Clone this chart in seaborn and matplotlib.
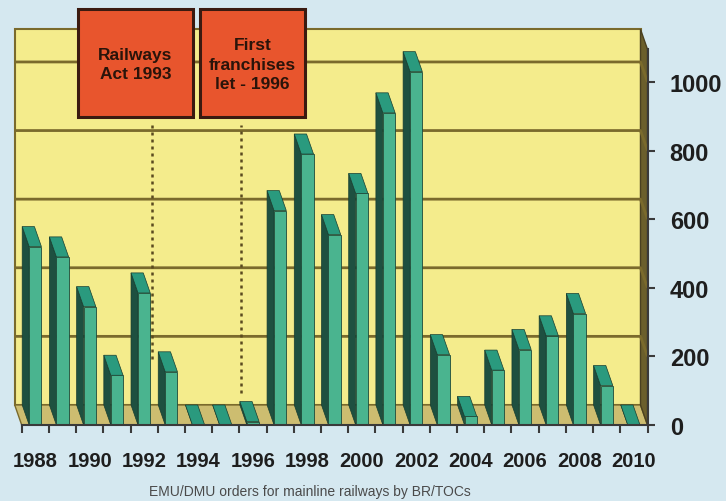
import numpy as np
import pandas as pd
import matplotlib
matplotlib.use("Agg")
import matplotlib.pyplot as plt
from matplotlib.patches import Polygon, Rectangle
import seaborn as sns

# data
years = list(range(1988, 2011))
orders = [520, 490, 345, 145, 385, 155, 0, 0, 10, 625, 790, 555, 675,
          910, 1030, 205, 25, 160, 220, 260, 325, 115, 0]
tick_years = years[::2]
y_ticks = [0, 200, 400, 600, 800, 1000]
events = ["Railways\nAct 1993", "First\nfranchises\nlet - 1996"]
event_pos = [4.55, 7.8]
caption = "EMU/DMU orders for mainline railways by BR/TOCs"

df = pd.DataFrame({"year": years, "orders": orders})

# colours
bg = "#d5e8f0"
wall = "#f4ec8c"
floor = "#cdbd70"
side_wall = "#6b5f2c"
grid = "#7a6a2c"
front = "#4ab48f"
top = "#2a9a7e"
side = "#1e5040"
red = "#e8552d"

sns.set_style("white")
plt.rcParams["font.family"] = ["Liberation Sans", "DejaVu Sans"]

fig = plt.figure(figsize=(7.26, 5.02), dpi=100, facecolor=bg)
ax = fig.add_axes([21.7 / 726, 76 / 502, 625.8 / 726, 375.6 / 502])
ax.set_facecolor("none")

sns.barplot(data=df, x="year", y="orders", color=front, width=0.45,
            saturation=1, edgecolor="#1c4a3a", linewidth=0.6, zorder=5, ax=ax)
bars = list(ax.patches)

n = len(years)
ymax = 1095
ax.set_xlim(-0.5, n - 0.5)
ax.set_ylim(0, ymax)

# depth of the fake 3d box, in data units
dx, dy = -0.257, 58.4
x0, x1 = -0.5, n - 0.5

# back wall, floor and right side wall
ax.add_patch(Rectangle((x0 + dx, dy), x1 - x0, ymax, facecolor=wall,
                       edgecolor=grid, lw=1.5, zorder=0.5, clip_on=False))
ax.add_patch(Polygon([(x0, 0), (x1, 0), (x1 + dx, dy), (x0 + dx, dy)],
                     facecolor=floor, edgecolor=grid, lw=1, zorder=0.8, clip_on=False))
ax.add_patch(Polygon([(x1, 0), (x1 + dx, dy), (x1 + dx, ymax + dy), (x1, ymax)],
                     facecolor=side_wall, edgecolor="#4a4020", lw=1, zorder=0.9, clip_on=False))

for v in y_ticks[1:]:
    ax.plot([x0 + dx, x1 + dx, x1], [v + dy, v + dy, v], color=grid, lw=2,
            zorder=1, clip_on=False, solid_capstyle="butt")

# side and top faces of each bar
for b in bars:
    bx, bw, bh = b.get_x(), b.get_width(), b.get_height()
    ax.add_patch(Polygon([(bx, 0), (bx, bh), (bx + dx, bh + dy), (bx + dx, dy)],
                         facecolor=side, edgecolor="#173d30", lw=0.5, zorder=3, clip_on=False))
    ax.add_patch(Polygon([(bx, bh), (bx + bw, bh), (bx + bw + dx, bh + dy), (bx + dx, bh + dy)],
                         facecolor=top, edgecolor="#173d30", lw=0.5, zorder=4, clip_on=False))

# dotted event lines on the back wall
for pos, y_low in zip(event_pos, [134, 35]):
    ax.plot([pos + dx, pos + dx], [y_low + dy, 817 + dy], color="#5a4a20",
            lw=1.8, ls=(0, (1.2, 1.6)), zorder=2, clip_on=False)

# axes and ticks
for s in ["top", "left"]:
    ax.spines[s].set_visible(False)
for s in ["bottom", "right"]:
    ax.spines[s].set_color("#3a3a3a")
    ax.spines[s].set_linewidth(1.5)
    ax.spines[s].set_zorder(6)

ax.set_xlabel("")
ax.set_ylabel("")
ax.set_xticks(np.arange(-0.5, n, 1))
ax.set_xticks(np.arange(0, n, 2), minor=True)
ax.set_xticklabels([], minor=False)
ax.set_xticklabels([str(y) for y in tick_years], minor=True, fontweight="bold")
ax.tick_params(axis="x", which="major", length=6, width=1.5, color="#3a3a3a", bottom=True)
ax.tick_params(axis="x", which="minor", length=0, pad=18.5, labelsize=14.5,
               labelcolor="#1e1e1e")

ax.yaxis.tick_right()
ax.set_yticks(y_ticks)
ax.set_yticklabels([str(v) for v in y_ticks], fontweight="bold")
ax.tick_params(axis="y", length=5, width=1.5, color="#3a3a3a", pad=11,
               labelsize=17, labelcolor="#1e1e1e", right=True, left=False)

# event boxes
box_px = [(78, 10, 115, 108), (200, 10, 105, 108)]
for (bx, by, bw, bh), label in zip(box_px, events):
    fig.add_artist(Rectangle((bx / 726, 1 - (by + bh) / 502), bw / 726, bh / 502,
                             transform=fig.transFigure, facecolor=red,
                             edgecolor="#3a1a10", lw=2.2))
    fig.text((bx + bw / 2) / 726, 1 - 65 / 502, label, ha="center", va="center",
             fontsize=12.5, fontweight="bold", color="#2a140a", linespacing=1.35)

fig.text(310 / 726, 10 / 502, caption, ha="center", va="center",
         fontsize=10, color="#4a4a4a")

fig.savefig("out.png", dpi=100, facecolor=bg)
